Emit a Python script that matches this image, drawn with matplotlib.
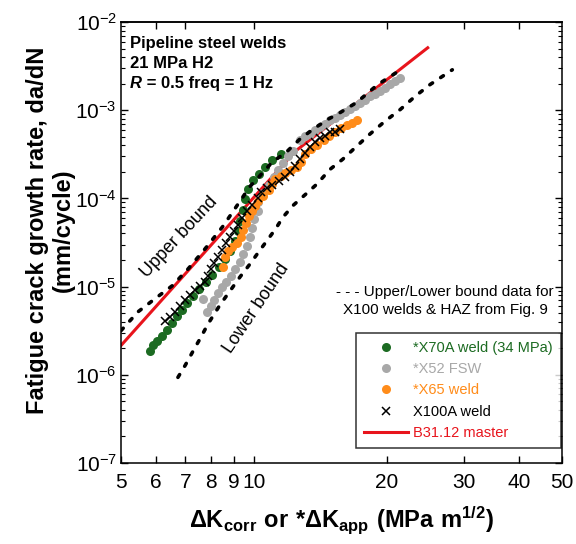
import matplotlib
matplotlib.use('Agg')
import matplotlib.pyplot as plt
from matplotlib.ticker import FixedLocator, FixedFormatter, NullLocator

plt.rcParams['font.family'] = ['Liberation Sans', 'DejaVu Sans']

# *X70A weld (34 MPa)
x70_dk = [5.81, 5.91, 6.03, 6.19, 6.36, 6.53, 6.70, 6.88, 7.06, 7.28, 7.52, 7.80, 8.05, 8.32,
          8.60, 8.84, 9.08, 9.22, 9.31, 9.46, 9.56, 9.71, 9.97, 10.3, 10.6, 11.0, 11.5]
x70_rate = [1.88e-6, 2.2e-6, 2.44e-6, 2.78e-6, 3.25e-6, 3.9e-6, 4.68e-6, 5.47e-6, 6.56e-6,
            7.87e-6, 9.44e-6, 1.13e-5, 1.36e-5, 1.67e-5, 2.06e-5, 2.54e-5, 3.29e-5, 4.27e-5,
            5.53e-5, 7.36e-5, 9.8e-5, 1.27e-4, 1.60e-4, 1.87e-4, 2.25e-4, 2.70e-4, 3.15e-4]

# *X52 FSW
x52_dk = [7.67, 7.84, 8.00, 8.13, 8.30, 8.47, 8.65, 8.88, 9.07, 9.31, 9.45, 9.66, 9.81, 9.91,
          10.0, 10.2, 10.25, 10.5, 10.8, 11.1, 11.35, 11.65, 11.95, 12.3, 12.7, 13.1, 13.4,
          13.8, 14.1, 14.5, 14.9, 15.3, 15.7, 16.1, 16.5, 17.0, 17.4, 17.9, 18.3, 18.8, 19.3,
          19.8, 20.4, 20.9, 21.5]
x52_rate = [7.28e-6, 5.2e-6, 6.07e-6, 7.1e-6, 8.5e-6, 9.95e-6, 1.13e-5, 1.32e-5, 1.59e-5,
            1.91e-5, 2.35e-5, 2.89e-5, 3.65e-5, 4.61e-5, 5.82e-5, 7.17e-5, 9.06e-5, 1.15e-4,
            1.41e-4, 1.73e-4, 2.08e-4, 2.49e-4, 2.99e-4, 3.41e-4, 4.54e-4, 5.04e-4, 5.44e-4,
            5.89e-4, 6.37e-4, 7.06e-4, 7.64e-4, 8.25e-4, 8.92e-4, 9.64e-4, 1.04e-3, 1.13e-3,
            1.22e-3, 1.32e-3, 1.43e-3, 1.54e-3, 1.66e-3, 1.80e-3, 2.00e-3, 2.16e-3, 2.33e-3]

# *X65 weld
x65_dk = [8.52, 8.61, 8.74, 8.93, 9.16, 9.36, 9.45, 9.60, 9.76, 9.91, 10.07, 10.25, 10.5,
          10.8, 11.0, 11.2, 11.5, 11.8, 12.15, 12.5, 12.8, 13.1, 13.5, 13.9, 14.4, 14.8,
          15.3, 15.8, 16.3, 16.7, 17.1]
x65_rate = [1.67e-5, 2.17e-5, 2.53e-5, 2.81e-5, 3.12e-5, 3.65e-5, 4.38e-5, 5.25e-5, 6.3e-5,
            7.17e-5, 8.17e-5, 9.3e-5, 1.06e-4, 1.24e-4, 1.45e-4, 1.65e-4, 1.78e-4, 1.92e-4,
            2.08e-4, 2.25e-4, 2.56e-4, 3.15e-4, 3.59e-4, 3.98e-4, 4.54e-4, 5.04e-4, 5.59e-4,
            6.2e-4, 6.88e-4, 7.24e-4, 7.83e-4]

# X100A weld
x100_dk = [6.29, 6.46, 6.63, 6.80, 6.99, 7.17, 7.36, 7.56, 7.75, 7.88, 8.00, 8.13, 8.30, 8.47,
           8.65, 8.84, 9.02, 9.21, 9.41, 9.66, 9.91, 10.2, 10.4, 10.7, 11.0, 11.4, 11.8, 12.1,
           12.4, 12.7, 13.1, 13.4, 13.8, 14.1, 14.5, 14.9, 15.3, 15.7]
x100_rate = [4.11e-6, 4.56e-6, 5.2e-6, 6.07e-6, 7.1e-6, 8.07e-6, 9.2e-6, 1.02e-5, 1.13e-5,
             1.32e-5, 1.59e-5, 1.86e-5, 2.17e-5, 2.60e-5, 3.12e-5, 3.65e-5, 4.27e-5, 4.99e-5,
             5.98e-5, 7.17e-5, 8.38e-5, 1.00e-4, 1.17e-4, 1.30e-4, 1.41e-4, 1.56e-4, 1.73e-4,
             1.98e-4, 2.31e-4, 2.77e-4, 3.24e-4, 3.78e-4, 4.31e-4, 4.78e-4, 5.16e-4, 5.59e-4,
             5.73e-4, 6.04e-4]

# B31.12 master curve
b31_dk = [5.0, 12.4, 24.8]
b31_rate = [2.15e-6, 3.4e-4, 5.1e-3]

# upper / lower bound for X100 welds & HAZ (Fig. 9)
upper_dk = [5.0, 5.47, 5.97, 6.53, 7.10, 7.75, 8.52, 9.21, 9.81, 10.3, 11.0, 11.9, 12.7, 13.6,
            14.7, 15.7, 17.1, 19.1, 21.2]
upper_rate = [3.17e-6, 5.2e-6, 7.28e-6, 1.02e-5, 1.59e-5, 2.67e-5, 4.85e-5, 8.61e-5, 1.37e-4,
              1.78e-4, 2.56e-4, 3.41e-4, 4.66e-4, 6.04e-4, 7.83e-4, 9.4e-4, 1.22e-3, 1.95e-3,
              2.73e-3]
lower_dk = [6.73, 6.99, 7.17, 7.36, 7.56, 7.75, 7.96, 8.39, 8.84, 9.31, 9.81, 10.3, 10.7, 11.2,
            11.65, 12.3, 13.1, 13.9, 14.9, 15.9, 17.0, 18.3, 19.8, 21.5, 23.2, 25.1, 28.2]
lower_rate = [9.35e-7, 1.28e-6, 1.61e-6, 2.04e-6, 2.58e-6, 3.25e-6, 4.11e-6, 6.24e-6, 8.97e-6,
              1.29e-5, 1.81e-5, 2.54e-5, 3.29e-5, 4.49e-5, 6.14e-5, 8.38e-5, 1.11e-4, 1.45e-4,
              2.14e-4, 2.77e-4, 3.78e-4, 5.31e-4, 7.43e-4, 1.02e-3, 1.43e-3, 1.95e-3, 2.87e-3]

x_ticks = [5, 6, 7, 8, 9, 10, 20, 30, 40, 50]
top_ticks = [6, 7, 10, 20, 30, 40]

green = '#1c6b22'
gray = '#a8a8a8'
orange = '#ff8c1a'
red = '#e8141c'

fig = plt.figure(figsize=(5.76, 5.44), dpi=100)
ax = fig.add_axes([0.2101, 0.1489, 0.7656, 0.8107])

ax.plot(b31_dk, b31_rate, color=red, lw=2.2, zorder=1, label='B31.12 master')
ax.plot(x70_dk, x70_rate, 'o', color=green, ms=6.5, mec='none', zorder=2,
        label='*X70A weld (34 MPa)')
ax.plot(x52_dk, x52_rate, 'o', color=gray, ms=6.5, mec='none', zorder=3, label='*X52 FSW')
ax.plot(x65_dk, x65_rate, 'o', color=orange, ms=6.5, mec='none', zorder=4, label='*X65 weld')
ax.plot(x100_dk, x100_rate, 'x', color='black', ms=6, mew=1.1, zorder=5, label='X100A weld')
for bdk, brate in [(upper_dk, upper_rate), (lower_dk, lower_rate)]:
    ax.plot(bdk, brate, color='black', lw=2.6, ls=(0, (0.9, 2.7)),
            dash_capstyle='round', zorder=6)

ax.set_xscale('log')
ax.set_yscale('log')
ax.set_xlim(5, 50)
ax.set_ylim(1e-7, 1e-2)

ax.xaxis.set_major_locator(FixedLocator(x_ticks))
ax.xaxis.set_major_formatter(FixedFormatter([str(t) for t in x_ticks]))
ax.xaxis.set_minor_locator(NullLocator())
ax.tick_params(axis='x', which='major', direction='in', length=5, width=1, labelsize=15, pad=7)
ax.tick_params(axis='y', which='major', direction='in', length=5, width=1, labelsize=15,
               pad=3, right=True)
ax.tick_params(axis='y', which='minor', direction='in', length=3, width=0.8, right=True)
for s in ax.spines.values():
    s.set_linewidth(1.1)

sec = ax.secondary_xaxis('top')
sec.set_xticks(top_ticks)
sec.xaxis.set_minor_locator(NullLocator())
sec.tick_params(direction='in', length=5, width=1, labeltop=False)
sec.spines['top'].set_linewidth(1.1)

ax.set_xlabel(r'$\mathdefault{\Delta K_{corr}\ or\ {*}\Delta K_{app}\ (MPa\ m^{1/2})}$',
              fontsize=17, fontweight='bold')
ax.xaxis.set_label_coords(0.5, -0.095)
ax.set_ylabel('Fatigue crack growth rate, da/dN\n(mm/cycle)', fontsize=17,
              fontweight='bold', linespacing=1.15)
ax.yaxis.set_label_coords(-0.105, 0.528)

# condition note top-left
ax.text(0.02, 0.941, 'Pipeline steel welds', transform=ax.transAxes, fontsize=12,
        fontweight='bold', va='baseline')
ax.text(0.02, 0.896, '21 MPa H2', transform=ax.transAxes, fontsize=12,
        fontweight='bold', va='baseline')
r_txt = ax.text(0.02, 0.850, 'R', transform=ax.transAxes, fontsize=12, fontweight='bold',
                style='italic', va='baseline')
ax.annotate(' = 0.5 freq = 1 Hz', xy=(1, 0), xycoords=r_txt, fontsize=12,
            fontweight='bold', va='bottom', ha='left')

ax.text(6.78, 3.6e-5, 'Upper bound', fontsize=13, rotation=47, ha='center', va='center')
ax.text(10.12, 5.6e-6, 'Lower bound', fontsize=13, rotation=56, ha='center', va='center')
ax.text(0.735, 0.367, '- - - Upper/Lower bound data for\nX100 welds & HAZ from Fig. 9',
        transform=ax.transAxes, fontsize=11, ha='center', va='center', linespacing=1.3)

handles, labels = ax.get_legend_handles_labels()
order = [1, 2, 3, 4, 0]
leg = ax.legend([handles[i] for i in order], [labels[i] for i in order],
                loc='lower right', bbox_to_anchor=(0.997, 0.034), borderaxespad=0,
                fontsize=10.5, frameon=True, fancybox=False, edgecolor='black',
                handlelength=3.0, handletextpad=0.35, labelspacing=0.5, borderpad=0.55)
leg.get_frame().set_linewidth(1.1)
for txt, col in zip(leg.get_texts(), [green, gray, orange, 'black', red]):
    txt.set_color(col)

fig.savefig('out.png', dpi=100, facecolor='white')
